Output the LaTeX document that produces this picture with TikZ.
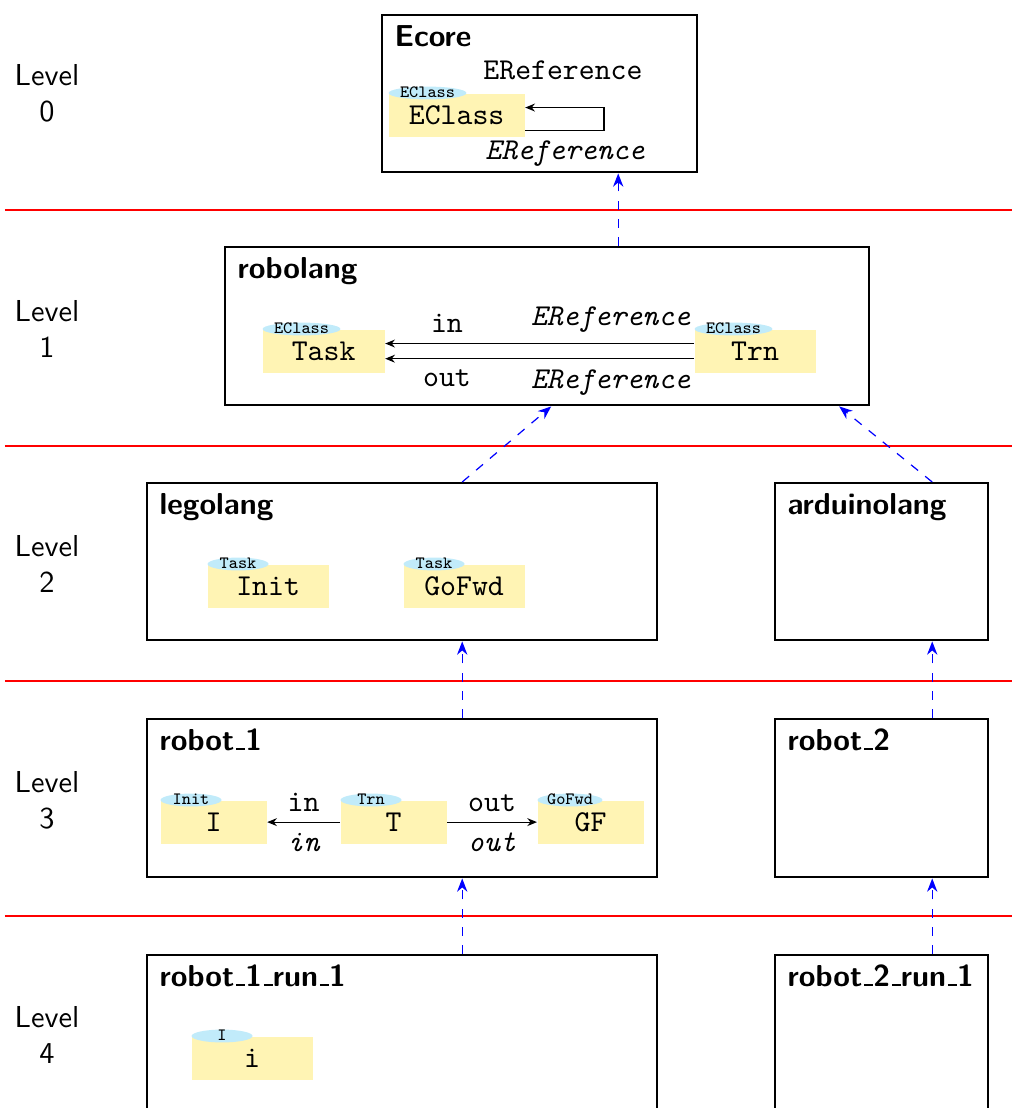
\documentclass[tikz,border=0pt]{standalone}
\usetikzlibrary{arrows.meta,shapes.geometric}
\definecolor{clsyellow}{RGB}{255,244,180}
\definecolor{clsblue}{RGB}{193,235,250}
\newcommand{\usc}{\leavevmode\kern.06em\vbox{\hrule width.3em height 0.5pt}}
\tikzset{
  levelbox/.style={draw, thick, anchor=north west, inner sep=0pt, minimum height=52pt},
  boxtitle/.style={anchor=base west, font=\sffamily\bfseries, inner sep=0pt},
  cls/.style={fill=clsyellow, anchor=north west, minimum height=14.19pt, inner sep=0pt, font=\ttfamily},
  clstype/.style={ellipse, fill=clsblue, anchor=west, inner sep=0pt, minimum width=20.1pt,
    text height=3pt, text depth=0pt, font=\ttfamily\fontsize{5.7}{6}\selectfont},
  conf/.style={blue, dashed, -{Stealth[length=4.4pt,width=3.4pt]}},
  refarrow/.style={-{Stealth[length=3.2pt,width=2.6pt]}},
  sepline/.style={red, thick},
  lvl/.style={font=\sffamily, align=center},
  itl/.style={font=\ttfamily\itshape},
  ttl/.style={font=\ttfamily}
}
\begin{document}
\begin{tikzpicture}[x=0.33pt,y=-0.33pt]
\useasboundingbox (0,0) rectangle (1012,1108);
\clip (0,0) rectangle (1012,1108);

% separators
\foreach \yy in {210,446,681,916} \draw[sepline] (5,\yy) -- (1012,\yy);

% level labels
\node[lvl] (lv0) at (47,93) {Level\\0};
\node[lvl] (lv1) at (47,329) {Level\\1};
\node[lvl] (lv2) at (47,564) {Level\\2};
\node[lvl] (lv3) at (47,800) {Level\\3};
\node[lvl] (lv4) at (47,1035) {Level\\4};

% boxes
\node[levelbox, minimum width=103.95pt, minimum height=51.81pt] (ecore) at (381,14) {};
\node[levelbox, minimum width=212.52pt, minimum height=52.14pt] (robolang) at (224,246) {};
\node[levelbox, minimum width=168.3pt, minimum height=51.81pt] (legolang) at (146,482) {};
\node[levelbox, minimum width=70.29pt, minimum height=51.81pt] (arduinolang) at (774,482) {};
\node[levelbox, minimum width=168.3pt, minimum height=52.14pt] (robot1) at (146,718) {};
\node[levelbox, minimum width=70.29pt, minimum height=52.14pt] (robot2) at (774,718) {};
\node[levelbox, minimum width=168.3pt, minimum height=52.14pt] (run1) at (146,954) {};
\node[levelbox, minimum width=70.29pt, minimum height=52.14pt] (run2) at (774,954) {};

% titles
\node[boxtitle] (ecore-title) at ([xshift=4.29pt,yshift=-10.56pt]ecore.north west) {Ecore};
\node[boxtitle] (robolang-title) at ([xshift=4.29pt,yshift=-10.56pt]robolang.north west) {robolang};
\node[boxtitle] (legolang-title) at ([xshift=4.29pt,yshift=-10.56pt]legolang.north west) {legolang};
\node[boxtitle] (arduinolang-title) at ([xshift=4.29pt,yshift=-10.56pt]arduinolang.north west) {arduinolang};
\node[boxtitle] (robot1-title) at ([xshift=4.29pt,yshift=-10.56pt]robot1.north west) {robot\usc 1};
\node[boxtitle] (robot2-title) at ([xshift=4.29pt,yshift=-10.56pt]robot2.north west) {robot\usc 2};
\node[boxtitle] (run1-title) at ([xshift=4.29pt,yshift=-10.56pt]run1.north west) {robot\usc 1\usc run\usc 1};
\node[boxtitle] (run2-title) at ([xshift=4.29pt,yshift=-10.56pt]run2.north west) {robot\usc 2\usc run\usc 1};

% Level 0: Ecore
\node[cls, minimum width=44.88pt] (eclass) at (388,93) {EClass};
\node[clstype] (eclass-t) at (eclass.north west) {EClass};
\draw[refarrow, semithick] ([yshift=-5.1pt]eclass.east) -- ++(79,0) |- ([yshift=2.5pt]eclass.east);
\node[ttl] (eref-top) at (563,70) {EReference};
\node[itl] (eref-bot) at (565,154) {EReference};

% Level 1: robolang
\node[cls, minimum width=40.26pt] (task) at (262,329) {Task};
\node[clstype] (task-t) at (task.north west) {EClass};
\node[cls, minimum width=39.93pt] (trn) at (694,329) {Trn};
\node[clstype] (trn-t) at (trn.north west) {EClass};
\draw[refarrow] ([yshift=2.5pt]trn.west) --
  node[above, pos=0.27, itl] (rin-e) {EReference}
  node[above, pos=0.8, ttl] (rin-n) {in} ([yshift=2.5pt]task.east);
\draw[refarrow] ([yshift=-2.5pt]trn.west) --
  node[below, pos=0.27, itl] (rout-e) {EReference}
  node[below, pos=0.8, ttl] (rout-n) {out} ([yshift=-2.5pt]task.east);

% Level 2: legolang
\node[cls, minimum width=39.93pt] (init) at (207,564) {Init};
\node[clstype] (init-t) at (init.north west) {Task};
\node[cls, minimum width=39.93pt] (gofwd) at (403,564) {GoFwd};
\node[clstype] (gofwd-t) at (gofwd.north west) {Task};

% Level 3: robot_1
\node[cls, minimum width=34.98pt] (oi) at (160,800) {I};
\node[clstype] (oi-t) at (oi.north west) {Init};
\node[cls, minimum width=34.98pt] (ot) at (340,800) {T};
\node[clstype] (ot-t) at (ot.north west) {Trn};
\node[cls, minimum width=34.98pt] (ogf) at (537,800) {GF};
\node[clstype] (ogf-t) at (ogf.north west) {GoFwd};
\draw[refarrow] (ot.west) -- node[above, ttl] (oin-n) {in} node[below, itl] (oin-e) {in} (oi.east);
\draw[refarrow] (ot.east) -- node[above, ttl] (oout-n) {out} node[below, itl] (oout-e) {out} (ogf.west);

% Level 4: robot_1_run_1
\node[cls, minimum width=39.93pt] (ri) at (191,1036) {i};
\node[clstype] (ri-t) at (ri.north west) {I};

% conformance arrows
\draw[conf] ([xshift=23.43pt]robolang.north) coordinate (c1) -- (c1 |- ecore.south);
\draw[conf] ([xshift=19.8pt]legolang.north) -- ([xshift=1.32pt]robolang.south);
\draw[conf] ([xshift=16.67pt]arduinolang.north) -- ([xshift=96.36pt]robolang.south);
\draw[conf] ([xshift=19.8pt]robot1.north) coordinate (c4) -- (c4 |- legolang.south);
\draw[conf] ([xshift=16.67pt]robot2.north) coordinate (c5) -- (c5 |- arduinolang.south);
\draw[conf] ([xshift=19.8pt]run1.north) coordinate (c6) -- (c6 |- robot1.south);
\draw[conf] ([xshift=16.67pt]run2.north) coordinate (c7) -- (c7 |- robot2.south);
\end{tikzpicture}
\end{document}
